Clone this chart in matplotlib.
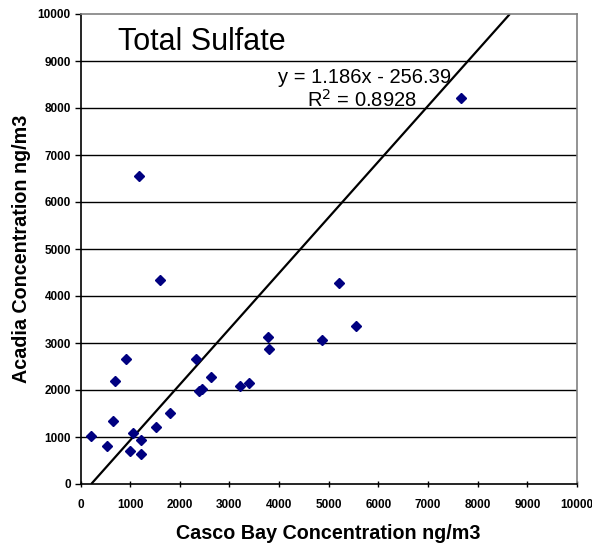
import numpy as np
import matplotlib
matplotlib.use("Agg")
import matplotlib.pyplot as plt

casco_bay = [212, 534, 662, 702, 911, 991, 1058, 1226, 1226, 1529, 1811, 2329,
             2396, 2456, 2625, 3209, 3397, 3767, 3800, 1186, 1597, 5198, 5554,
             4855, 7661]
acadia = [1025, 813, 1338, 2187, 2661, 694, 1083, 941, 643, 1217, 1501, 2661,
          1989, 2017, 2278, 2095, 2159, 3121, 2866, 6561, 4331, 4274, 3355,
          3072, 8210]
slope = 1.186
intercept = -256.39
r_squared = 0.8928
x_ticks = list(range(0, 10001, 1000))
y_ticks = list(range(0, 10001, 1000))

plt.rcParams['font.family'] = ['Liberation Sans', 'DejaVu Sans']

fig = plt.figure(figsize=(5.92, 5.52), dpi=100)
ax = fig.add_axes([80.5 / 592, 1 - 484 / 552, (577 - 80.5) / 592, (484 - 14) / 552])

ax.set_xlim(0, 10000)
ax.set_ylim(0, 10000)

for yv in y_ticks[1:-1]:
    ax.axhline(yv, color='black', linewidth=1.0, zorder=1)

# trend line
x0 = -intercept / slope
x1 = (10000 - intercept) / slope
ax.plot([x0, x1], [0, 10000], color='black', linewidth=1.6, zorder=2,
        solid_capstyle='butt')

ax.plot(casco_bay, acadia, linestyle='none', marker='D', markersize=4.8,
        color='#000080', zorder=3)

ax.set_xticks(x_ticks)
ax.set_yticks(y_ticks)
ax.set_xticklabels([str(v) for v in x_ticks], fontsize=8.5, fontweight='bold')
ax.set_yticklabels([str(v) for v in y_ticks], fontsize=8.5, fontweight='bold')
ax.tick_params(axis='x', direction='inout', length=5, width=1, pad=8)
ax.tick_params(axis='y', direction='out', length=4, width=1, pad=3)

for s in ['left', 'bottom']:
    ax.spines[s].set_color('black')
    ax.spines[s].set_linewidth(1.2)
for s in ['top', 'right']:
    ax.spines[s].set_color('#808080')
    ax.spines[s].set_linewidth(1.2)

ax.set_xlabel('Casco Bay Concentration ng/m3', fontsize=14.2, fontweight='bold',
              labelpad=10)
ax.set_ylabel('Acadia Concentration ng/m3', fontsize=14.2, fontweight='bold',
              labelpad=5)

fig.text(118 / 592, 1 - 50 / 552, 'Total Sulfate', fontsize=22,
         ha='left', va='baseline')
fig.text(365 / 592, 1 - 83 / 552, 'y = 1.186x - 256.39', fontsize=14.5,
         ha='center', va='baseline')
fig.text(362 / 592, 1 - 107 / 552, 'R$^2$ = 0.8928', fontsize=14.5,
         ha='center', va='baseline')

fig.savefig('out.png', dpi=100)
